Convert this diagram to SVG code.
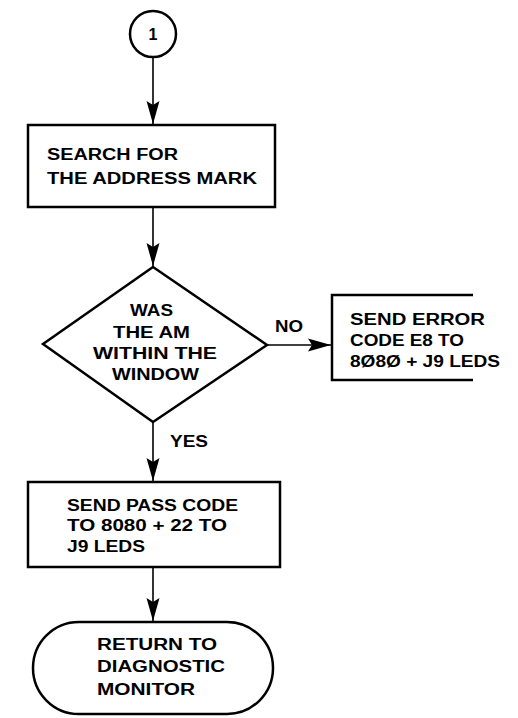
<svg xmlns="http://www.w3.org/2000/svg" width="518" height="718" viewBox="0 0 518 718">
<style>
.s{fill:#fff;stroke:#000;stroke-width:2.5}
.t{font-family:"Liberation Sans",Arial,sans-serif;font-weight:bold;font-size:16px;fill:#000}
.c{stroke:#000;stroke-width:1.6;fill:none}
</style>
<defs>
<marker id="ah" markerUnits="userSpaceOnUse" markerWidth="24" markerHeight="14" refX="23" refY="7" orient="auto">
<path d="M0,0.5 L23,7 L0,13.5 L4,7 z" fill="#000"/>
</marker>
</defs>
<rect width="518" height="718" fill="#fff"/>
<g id="connectors">
<line class="c" x1="153" y1="57" x2="153" y2="124" marker-end="url(#ah)"/>
<line class="c" x1="153" y1="207" x2="153" y2="266" marker-end="url(#ah)"/>
<line class="c" x1="267" y1="345" x2="331" y2="345" marker-end="url(#ah)"/>
<line class="c" x1="153" y1="422" x2="153" y2="481" marker-end="url(#ah)"/>
<line class="c" x1="153" y1="567" x2="153" y2="621" marker-end="url(#ah)"/>
<text class="t" x="275" y="332" textLength="28" lengthAdjust="spacingAndGlyphs">NO</text>
<text class="t" x="170" y="447" textLength="38" lengthAdjust="spacingAndGlyphs">YES</text>
</g>
<g id="start">
<circle class="s" cx="153" cy="34" r="23"/>
<text class="t" x="153" y="40" text-anchor="middle" font-size="18">1</text>
</g>
<g id="search">
<rect class="s" x="28" y="125" width="247" height="82"/>
<text class="t" x="47" y="160" textLength="131" lengthAdjust="spacingAndGlyphs">SEARCH FOR</text>
<text class="t" x="47" y="184" textLength="210" lengthAdjust="spacingAndGlyphs">THE ADDRESS MARK</text>
</g>
<g id="decision">
<polygon class="s" points="153,267 267,345 153,422 43,344"/>
<text class="t" x="130" y="316" textLength="43" lengthAdjust="spacingAndGlyphs">WAS</text>
<text class="t" x="113" y="338" textLength="77" lengthAdjust="spacingAndGlyphs">THE AM</text>
<text class="t" x="93" y="359" textLength="124" lengthAdjust="spacingAndGlyphs">WITHIN THE</text>
<text class="t" x="112" y="380" textLength="87" lengthAdjust="spacingAndGlyphs">WINDOW</text>
</g>
<g id="error">
<path d="M473,295 H332 V380 H473" fill="none" stroke="#000" stroke-width="2.5"/>
<text class="t" x="350" y="325" textLength="135" lengthAdjust="spacingAndGlyphs">SEND ERROR</text>
<text class="t" x="350" y="346" textLength="114" lengthAdjust="spacingAndGlyphs">CODE E8 TO</text>
<text class="t" x="350" y="367" textLength="150" lengthAdjust="spacingAndGlyphs">8Ø8Ø + J9 LEDS</text>
</g>
<g id="pass">
<rect class="s" x="28" y="482" width="252" height="85"/>
<text class="t" x="67" y="511" textLength="171" lengthAdjust="spacingAndGlyphs">SEND PASS CODE</text>
<text class="t" x="67" y="531" textLength="160" lengthAdjust="spacingAndGlyphs">TO 8080 + 22 TO</text>
<text class="t" x="67" y="552" textLength="78" lengthAdjust="spacingAndGlyphs">J9 LEDS</text>
</g>
<g id="return">
<rect class="s" x="33" y="622" width="240" height="92" rx="46" ry="46"/>
<text class="t" x="97" y="650" textLength="120" lengthAdjust="spacingAndGlyphs">RETURN TO</text>
<text class="t" x="97" y="672" textLength="128" lengthAdjust="spacingAndGlyphs">DIAGNOSTIC</text>
<text class="t" x="97" y="695" textLength="98" lengthAdjust="spacingAndGlyphs">MONITOR</text>
</g>
</svg>
